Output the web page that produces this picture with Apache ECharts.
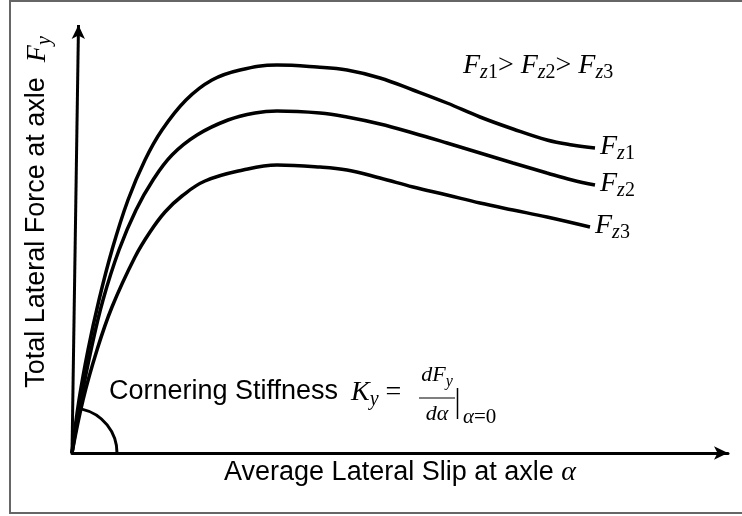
<!DOCTYPE html>
<html><head><meta charset="utf-8">
<script src="https://cdn.jsdelivr.net/npm/echarts@6/dist/echarts.min.js"></script>
<style>html,body{margin:0;padding:0;background:#fff}#c{width:742px;height:516px}</style>
</head><body><div id="c"></div>
<script>
// Curve Fz1 (highest vertical load)
const slipFz1  = [0, 7, 16, 27, 40, 56, 73, 90, 114, 140, 168, 205, 245, 275, 308, 341, 375, 408, 441, 475, 500, 523];
const forceFz1 = [0, 53, 103, 153, 203, 253, 293, 323, 353, 373, 383, 388, 386, 383, 375, 363, 350, 336, 324, 313, 308, 305];
// Curve Fz2
const slipFz2  = [0, 9, 19, 31, 47, 64, 81, 100, 125, 156, 183, 205, 248, 275, 308, 341, 375, 408, 441, 475, 500, 523];
const forceFz2 = [0, 53, 103, 153, 203, 243, 273, 298, 318, 333, 340, 342, 340, 336, 329, 320, 310, 300, 290, 280, 273, 268];
// Curve Fz3 (lowest vertical load)
const slipFz3  = [0, 11, 25, 40, 63, 78, 93, 110, 133, 171, 205, 248, 275, 308, 341, 375, 408, 441, 475, 518];
const forceFz3 = [0, 53, 103, 146, 196, 221, 241, 257, 272, 283, 288, 286, 283, 275, 266, 258, 250, 243, 236, 226];

const curveSubs = ['1', '2', '3'];
const xTitle = 'Average Lateral Slip at axle ';
const yTitle = 'Total Lateral Force at axle  ';
const noteText = 'Cornering Stiffness';

const SANS = 'Liberation Sans', SERIF = 'Liberation Serif';
const richMath = {
  a: {fontFamily: SANS, fontSize: 27, lineHeight: 31, verticalAlign: 'top', color: '#000'},
  f: {fontFamily: SERIF, fontStyle: 'italic', fontSize: 28, lineHeight: 31, verticalAlign: 'top', color: '#000'},
  n: {fontFamily: SERIF, fontSize: 28, lineHeight: 31, verticalAlign: 'top', color: '#000'},
  s: {fontFamily: SERIF, fontStyle: 'italic', fontSize: 20, lineHeight: 14, verticalAlign: 'bottom', color: '#000'},
  d: {fontFamily: SERIF, fontSize: 20, lineHeight: 14, verticalAlign: 'bottom', color: '#000'}
};

function pairs(xs, ys) { return xs.map((x, i) => [x, ys[i]]); }
const curves = [pairs(slipFz1, forceFz1), pairs(slipFz2, forceFz2), pairs(slipFz3, forceFz3)];

const chart = echarts.init(document.getElementById('c'));

const series = curves.map((d, i) => ({
  type: 'line',
  data: d,
  smooth: 0.4,
  symbol: 'none',
  clip: false,
  lineStyle: {color: '#000', width: 3.5},
  endLabel: {
    show: true,
    distance: 5,
    formatter: () => '{f|F}{s|z}{d|' + curveSubs[i] + '}',
    rich: richMath
  },
  silent: true
}));

// slanted vertical axis with arrow (as drawn in the reference)
series[0].markLine = {
  silent: true,
  symbol: ['none', 'arrow'],
  symbolSize: [10, 14],
  label: {show: false},
  lineStyle: {color: '#000', width: 3, type: 'solid'},
  data: [[{coord: [0, 0]}, {coord: [6.5, 428]}]]
};

chart.setOption({
  animation: false,
  backgroundColor: '#fff',
  grid: {left: 72, right: 14, top: 19, bottom: 63},
  xAxis: {
    type: 'value', min: 0, max: 656,
    axisLine: {show: true, lineStyle: {color: '#000', width: 3}, symbol: ['none', 'arrow'], symbolSize: [10, 14]},
    axisTick: {show: false}, axisLabel: {show: false}, splitLine: {show: false},
    name: '{a|' + xTitle + '}{f|α}',
    nameLocation: 'middle', nameGap: 6,
    nameTextStyle: {rich: richMath}
  },
  yAxis: {
    type: 'value', min: 0, max: 434,
    axisLine: {show: false}, axisTick: {show: false}, axisLabel: {show: false}, splitLine: {show: false}
  },
  series: series
});

const o = chart.convertToPixel({gridIndex: 0}, [0, 0]);

chart.setOption({
  graphic: [
    {type: 'rect', shape: {x: 10, y: 1, width: 745, height: 512}, style: {fill: null, stroke: '#666', lineWidth: 2}, silent: true},
    {type: 'text', x: 39, y: 212, rotation: Math.PI / 2,
      style: {text: '{a|' + yTitle + '}{f|F}{s|y}', rich: richMath, align: 'center', verticalAlign: 'middle'}},
    {type: 'text', x: 463, y: 67,
      style: {text: curveSubs.map(s => '{f|F}{s|z}{d|' + s + '}').join('{n|> }'), rich: richMath, align: 'left', verticalAlign: 'middle'}},
    {type: 'text', x: 109, y: 394,
      style: {text: '{a|' + noteText + '}', rich: richMath, align: 'left', verticalAlign: 'middle'}},
    {type: 'text', x: 351, y: 394,
      style: {text: '{f|K}{s|y}{n| = }', rich: richMath, align: 'left', verticalAlign: 'middle'}},
    {type: 'text', x: 437, y: 377,
      style: {text: '{f|dF}{s|y}', rich: {
        f: {fontFamily: SERIF, fontStyle: 'italic', fontSize: 22, lineHeight: 25, verticalAlign: 'top', color: '#000'},
        s: {fontFamily: SERIF, fontStyle: 'italic', fontSize: 16, lineHeight: 10, verticalAlign: 'bottom', color: '#000'}
      }, align: 'center', verticalAlign: 'middle'}},
    {type: 'line', shape: {x1: 419, y1: 398, x2: 455, y2: 398}, style: {stroke: '#000', lineWidth: 1.2}},
    {type: 'text', x: 437, y: 414,
      style: {text: 'dα', fontFamily: SERIF, fontStyle: 'italic', fontSize: 22, fill: '#000', align: 'center', verticalAlign: 'middle'}},
    {type: 'line', shape: {x1: 457.5, y1: 388, x2: 457.5, y2: 419}, style: {stroke: '#000', lineWidth: 1.5}},
    {type: 'text', x: 463, y: 417,
      style: {text: '{f|α}{n|=0}', rich: {
        f: {fontFamily: SERIF, fontStyle: 'italic', fontSize: 21, color: '#000'},
        n: {fontFamily: SERIF, fontSize: 21, color: '#000'}
      }, align: 'left', verticalAlign: 'middle'}},
    {type: 'arc', shape: {cx: o[0], cy: o[1], r: 45, startAngle: -1.35, endAngle: 0, clockwise: true},
      style: {stroke: '#000', lineWidth: 3, fill: null}, silent: true}
  ]
});
</script>
</body></html>
